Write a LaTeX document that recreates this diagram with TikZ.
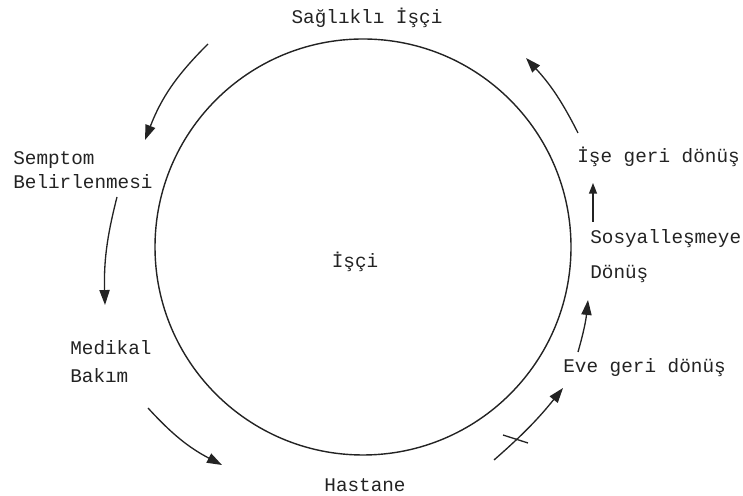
\documentclass[tikz,border=0pt]{standalone}
\usepackage{fontspec}
\setmonofont{Liberation Mono}
\usepackage{tikz}
\usetikzlibrary{arrows.meta, positioning}
\usepackage{xcolor}
\definecolor{inkDark}{RGB}{35, 35, 35}

\tikzset{
  lbl/.style={font=\ttfamily\fontsize{11}{14}\selectfont, text=inkDark, inner sep=0pt, align=left},
  arr/.style={-{Triangle[length=8.5pt, width=5.8pt]}, line width=0.75pt, inkDark},
  smallarr/.style={-{Triangle[length=6pt, width=4.5pt]}, line width=0.75pt, inkDark}
}

\begin{document}
\begin{tikzpicture}[x=0.02cm, y=0.02cm]
  \def\R{208}    % radius of the cycle
  \useasboundingbox (0,0) rectangle (743,496);

  % ---- Cycle ----
  \draw[line width=0.8pt, inkDark] (363,249) circle (\R);
  \node[lbl] (isci) at (355,234) {İşçi};

  % ---- Stages ----
  \node[lbl] (saglikli) at (367,478) {Sağlıklı İşçi};
  \node[lbl, anchor=west] (semptom) at (13,326) {Semptom\\Belirlenmesi};
  \node[lbl, anchor=west] (medikal) at (70,134) {Medikal\\[2pt]Bakım};
  \node[lbl] (hastane) at (365,11) {Hastane};
  \node[lbl, anchor=west] (eve) at (563,128) {Eve geri dönüş};
  \node[lbl, anchor=west] (sosyal) at (590,240) {Sosyalleşmeye\\[6pt]Dönüş};
  \node[lbl, anchor=west] (ise) at (577,339) {İşe geri dönüş};

  % ---- Arrow ends ----
  \coordinate (a1s) at (208,452);  \coordinate (a1e) at (145,356);
  \coordinate (a2s) at (117,299);  \coordinate (a2e) at (105,191);
  \coordinate (a3s) at (148,88);   \coordinate (a3e) at (222,31);
  \coordinate (a4s) at (494,36);   \coordinate (a4e) at (563,108);
  \coordinate (a5s) at (578,144);  \coordinate (a5e) at (588,196);
  \coordinate (a6s) at (593,274);  \coordinate (a6e) at (593,313);
  \coordinate (a7s) at (578,363);  \coordinate (a7e) at (526,438);
  \coordinate (t1) at (503,61);    \coordinate (t2) at (528,53);

  % ---- Arrows round the cycle ----
  \draw[arr] (a1s) to[bend right=12] (a1e);
  \draw[arr] (a2s) to[bend right=8] (a2e);
  \draw[arr] (a3s) to[bend right=10] (a3e);
  \draw[arr] (a4s) to[bend right=5] (a4e);
  \draw[line width=0.75pt, inkDark] (t1) -- (t2);
  \draw[arr] (a5s) to[bend right=5] (a5e);
  \draw[smallarr] (a6s) -- (a6e);
  \draw[arr] (a7s) to[bend right=8] (a7e);
\end{tikzpicture}
\end{document}
